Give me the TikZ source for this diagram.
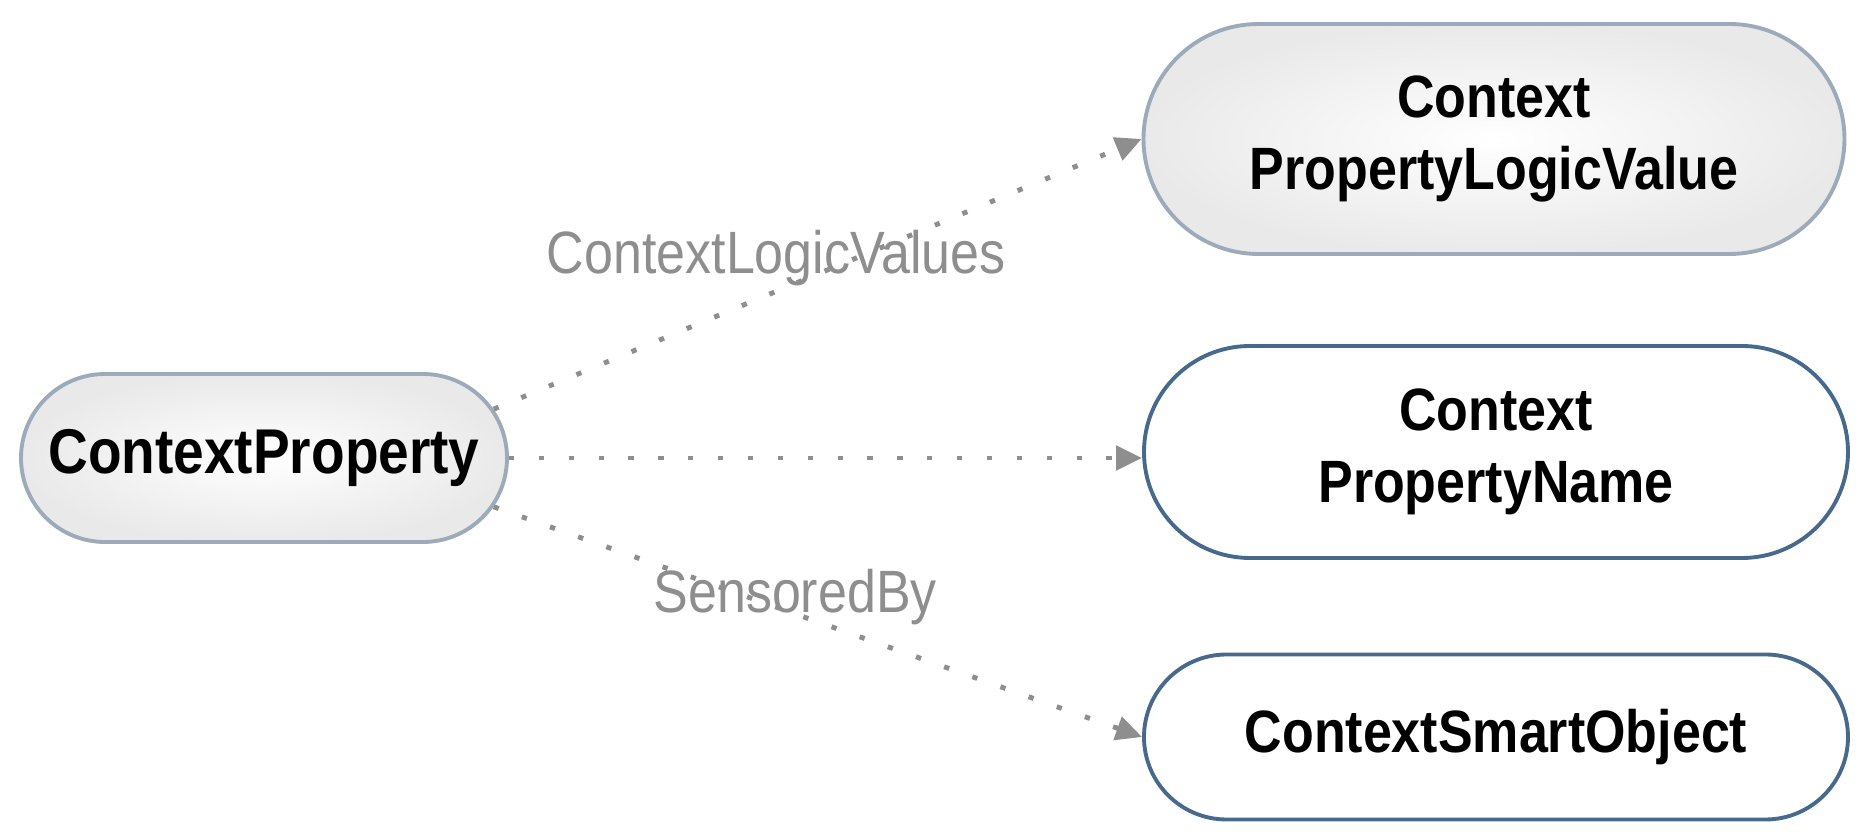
\documentclass[tikz,border=0pt]{standalone}
\usepackage{fontspec}
\setmainfont{Liberation Sans}[FakeStretch=0.87]
\usepackage{tikz}
\usetikzlibrary{arrows.meta,shapes.misc}

\definecolor{linkgray}{HTML}{8E8E8E}
\definecolor{paleedge}{HTML}{9CAABA}
\definecolor{slateedge}{HTML}{47698C}

\begin{document}
\begin{tikzpicture}[>={Triangle[length=0.26cm,width=0.24cm]}]
  % Canvas: 18.72cm wide, 8.34cm tall
  \useasboundingbox (0,0) rectangle (18.72,8.34);

  \tikzset{
    classbox/.style={rounded rectangle, line width=1.1pt, align=center,
      inner sep=0pt, font=\bfseries\fontsize{17}{20.5}\selectfont},
    plainbox/.style={classbox, draw=slateedge, fill=white},
    shadedbox/.style={classbox, draw=paleedge, inner color=white, outer color=gray!17},
    link/.style={->, linkgray, line width=1.4pt, dash pattern=on 1.5pt off 7pt},
    linklabel/.style={font=\fontsize{17}{20}\selectfont, text=linkgray}
  }

  % Source class on the left
  \node[shadedbox, minimum width=4.86cm, minimum height=1.68cm, font=\bfseries\fontsize{18}{21}\selectfont] (prop) at (2.64,3.76) {ContextProperty};

  % Target classes on the right
  \node[shadedbox, minimum width=7.01cm, minimum height=2.30cm] (logic) at (14.94,6.95) {Context\\PropertyLogicValue};
  \node[plainbox, minimum width=7.04cm, minimum height=2.12cm] (pname) at (14.96,3.82) {Context\\PropertyName};
  \node[plainbox, minimum width=7.04cm, minimum height=1.65cm] (smart) at (14.96,0.97) {ContextSmartObject};

  % Relations
  \draw[link] (prop.12) -- node[linklabel, pos=0.436, yshift=0.33cm] (lbllogic) {ContextLogicValues} (logic.west);
  \draw[link] (prop.east) -- (prop.east -| pname.west);
  \draw[link] (prop.-12) -- node[linklabel, pos=0.465, yshift=0.17cm] (lblsensor) {SensoredBy} (smart.west);
\end{tikzpicture}
\end{document}
